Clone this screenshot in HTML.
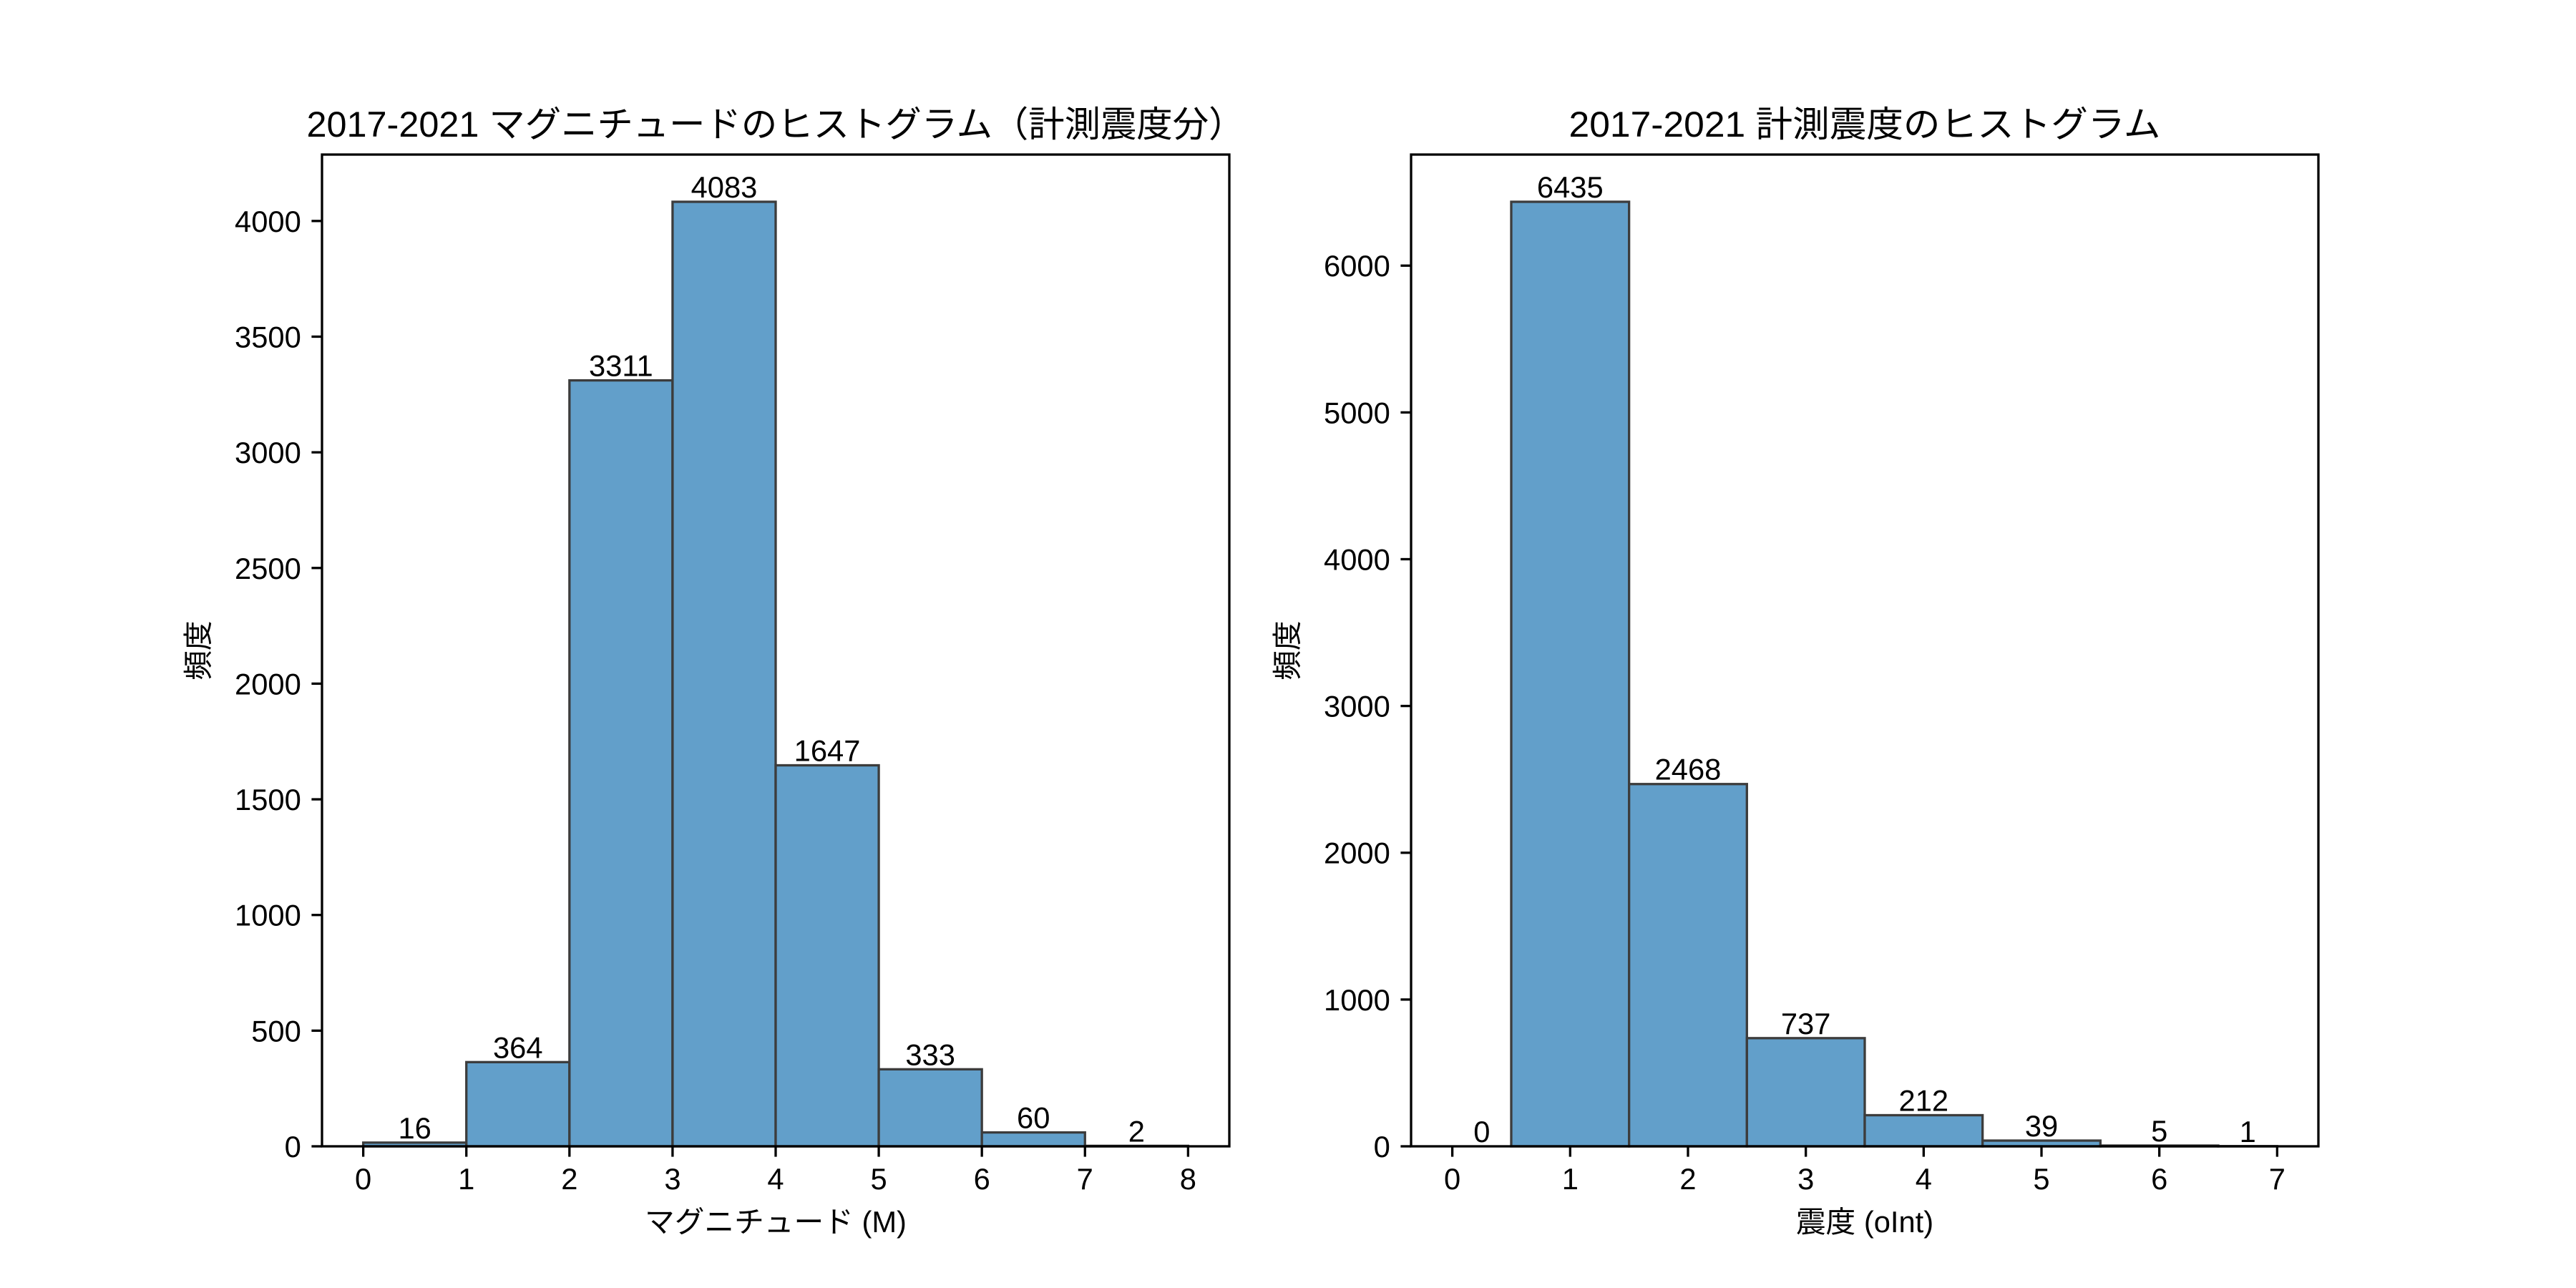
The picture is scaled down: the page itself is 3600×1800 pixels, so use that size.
<!DOCTYPE html>
<html><head><meta charset="utf-8">
<style>
html,body{margin:0;padding:0;background:#fff;}
svg{display:block;font-family:"Liberation Sans","Noto Sans CJK JP",sans-serif;}
</style></head>
<body>
<svg id="fig" width="3600" height="1800" viewBox="0 0 3600 1800" xmlns="http://www.w3.org/2000/svg">
<rect width="3600" height="1800" fill="#fff"/>
</svg>
<script>
// Left chart data
const magEdges = [0,1,2,3,4,5,6,7,8];
const magCounts = [16,364,3311,4083,1647,333,60,2];
const magXTicks = [0,1,2,3,4,5,6,7,8];
const magYTicks = [0,500,1000,1500,2000,2500,3000,3500,4000];
// Right chart data
const intEdges = [0,0.5,1.5,2.5,3.5,4.5,5.5,6.5,7];
const intCounts = [0,6435,2468,737,212,39,5,1];
const intXTicks = [0,1,2,3,4,5,6,7];
const intYTicks = [0,1000,2000,3000,4000,5000,6000];

const NS = "http://www.w3.org/2000/svg";
const svg = document.getElementById('fig');
function mk(tag, attrs, parent){
  const e = document.createElementNS(NS, tag);
  for (const k in attrs) e.setAttribute(k, attrs[k]);
  (parent||svg).appendChild(e);
  return e;
}
const FS = 41.7, TICK = 14.6, PAD = 14.6;

function drawChart(id, ax, edges, counts, xticks, yticks, title, titleLen, xlabel){
  const g = mk('g', {});
  
  
  const x0 = edges[0], x1 = edges[edges.length-1];
  const m = (x1 - x0) * 0.05;
  const xmin = x0 - m, xmax = x1 + m;
  const ymax = Math.max(...counts) * 1.05;
  const sx = v => ax.l + (v - xmin) / (xmax - xmin) * (ax.r - ax.l);
  const sy = v => ax.b - v / ymax * (ax.b - ax.t);

  // bars
  for (let i = 0; i < counts.length; i++){
    const xa = sx(edges[i]), xb = sx(edges[i+1]), yv = sy(counts[i]);
    const r = mk('rect', {x: xa, y: yv, width: xb - xa, height: ax.b - yv,
      fill: '#629fca', stroke: '#3c3c3c', 'stroke-width': 3.3}, g);
    
    
    const t = mk('text', {x: (xa + xb) / 2, y: yv - 6, 'font-size': FS, 'text-anchor': 'middle', fill: '#000'}, g);
    
    
    t.textContent = String(counts[i]);
  }
  // frame
  const f = mk('rect', {x: ax.l, y: ax.t, width: ax.r - ax.l, height: ax.b - ax.t, fill: 'none', stroke: '#000', 'stroke-width': 3.3}, g);
  
  
  // x ticks
  xticks.forEach(v => {
    const x = sx(v);
    const l = mk('line', {x1: x, x2: x, y1: ax.b, y2: ax.b + TICK, stroke: '#000', 'stroke-width': 3.3}, g);
    
    
    const t = mk('text', {x: x, y: ax.b + TICK + PAD + 31, 'font-size': FS, 'text-anchor': 'middle'}, g);
    
    
    t.textContent = String(v);
  });
  // y ticks
  yticks.forEach(v => {
    const y = sy(v);
    const l = mk('line', {x1: ax.l - TICK, x2: ax.l, y1: y, y2: y, stroke: '#000', 'stroke-width': 3.3}, g);
    
    
    const t = mk('text', {x: ax.l - TICK - PAD, y: y + 15, 'font-size': FS, 'text-anchor': 'end'}, g);
    
    
    t.textContent = String(v);
  });
  // title
  const tt = mk('text', {x: (ax.l + ax.r) / 2, y: 191, 'font-size': 50, 'text-anchor': 'middle', textLength: titleLen, lengthAdjust: 'spacingAndGlyphs'}, g);
  
  
  tt.textContent = title;
  // x label
  const xl = mk('text', {x: (ax.l + ax.r) / 2, y: 1722, 'font-size': FS, 'text-anchor': 'middle'}, g);
  
  
  xl.textContent = xlabel;
  // y label
  const yx = ax.l - 173;
  const yl = mk('text', {x: yx, y: (ax.t + ax.b) / 2, 'font-size': FS, 'text-anchor': 'middle', transform: 'rotate(-90 ' + yx + ' ' + ((ax.t + ax.b) / 2) + ')', 'dominant-baseline': 'central'}, g);
  
  
  yl.textContent = '頻度';
}

drawChart('magnitude', {l: 450, r: 1718, t: 216, b: 1602}, magEdges, magCounts, magXTicks, magYTicks,
  '2017-2021 マグニチュードのヒストグラム（計測震度分）', 1311, 'マグニチュード (M)');
drawChart('intensity', {l: 1972, r: 3240, t: 216, b: 1602}, intEdges, intCounts, intXTicks, intYTicks,
  '2017-2021 計測震度のヒストグラム', 827, '震度 (oInt)');
</script>
</body></html>
